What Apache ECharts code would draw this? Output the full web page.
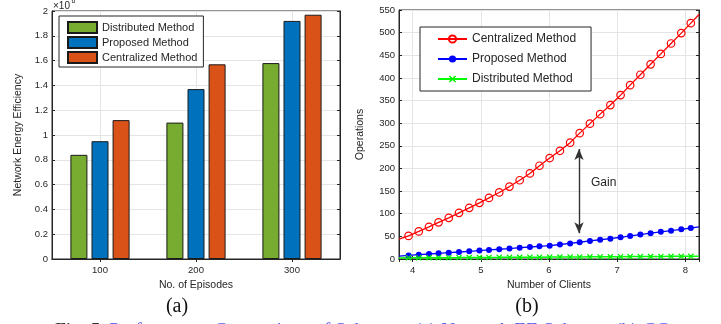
<!DOCTYPE html>
<html><head><meta charset="utf-8">
<script src="https://cdn.jsdelivr.net/npm/echarts@6/dist/echarts.min.js"></script>
<style>html,body{margin:0;padding:0;background:#fff}#c{width:721px;height:324px}</style>
</head><body><div id="c"></div>
<script>
// ---- Data: chart (a) ----
const episodes = ['100', '200', '300'];
const distributedEE = [0.84, 1.10, 1.58];
const proposedEE = [0.95, 1.37, 1.92];
const centralizedEE = [1.12, 1.57, 1.97];

// ---- Data: chart (b) ----
const clients = [3.94, 4.09, 4.24, 4.38, 4.53, 4.68, 4.83, 4.98, 5.12, 5.27, 5.42, 5.57, 5.72, 5.86, 6.01,
  6.16, 6.31, 6.45, 6.60, 6.75, 6.90, 7.05, 7.19, 7.34, 7.49, 7.64, 7.79, 7.94, 8.08];
const centralizedOps = [51, 61, 71, 81, 91, 102, 113, 124, 135, 147, 160, 174, 189, 206, 223,
  239, 257, 278, 299, 320, 340, 362, 384, 407, 430, 453, 476, 499, 521];
const proposedOps = [8, 9.5, 11, 12.5, 14, 15.5, 17, 18.5, 20, 21.5, 23, 25, 26.5, 28, 29.5,
  32, 34.5, 37, 40, 42.5, 45, 48, 51, 54, 57, 60, 62.5, 65.5, 68.5];
const distributedOps = [2.5, 2.6, 2.8, 2.9, 3.0, 3.1, 3.3, 3.4, 3.5, 3.6, 3.8, 3.9, 4.0, 4.1, 4.3,
  4.4, 4.5, 4.6, 4.8, 4.9, 5.0, 5.1, 5.3, 5.4, 5.5, 5.6, 5.8, 5.9, 6.0];
// line values where the curves meet the left/right plot edges
const edgeClients = [3.8, 8.2];
const centralizedEdge = [44, 540];
const proposedEdge = [6.5, 71];
const distributedEdge = [2.3, 6.2];
// "Gain" arrow (x position, top value, bottom value)
const gainX = 6.44;
const gainRange = [243, 57];

const SANS = '"Liberation Sans", Arial, Helvetica, sans-serif';
const SERIF = '"Liberation Serif", "Times New Roman", serif';
const AX = '#262626';
const GRIDC = '#e4e4e4';

function lineData(xs, ys, edge) {
  const d = [{ value: [edgeClients[0], edge[0]], symbol: 'none' }];
  xs.forEach((x, i) => d.push([x, ys[i]]));
  d.push({ value: [edgeClients[1], edge[1]], symbol: 'none' });
  return d;
}

const tickFont = { fontFamily: SANS, fontSize: 9.5, color: AX };
const nameFont = { fontFamily: SANS, fontSize: 10.5, color: AX };

function catAxis(pos, showLabel, name) {
  return {
    type: 'category', gridIndex: 0, position: pos, data: episodes,
    axisLine: { show: true, lineStyle: { color: AX, width: 1 } },
    axisTick: { show: true, inside: true, alignWithLabel: true, length: 3, lineStyle: { color: AX } },
    axisLabel: Object.assign({ show: showLabel, margin: 6 }, tickFont),
    splitLine: { show: false },
    name: name || '', nameLocation: 'middle', nameGap: 16, nameTextStyle: nameFont
  };
}
function eeAxis(pos, showLabel, name) {
  return {
    type: 'value', gridIndex: 0, position: pos, min: 0, max: 2, interval: 0.2,
    axisLine: { show: true, lineStyle: { color: AX, width: 1 } },
    axisTick: { show: true, inside: true, length: 3, lineStyle: { color: AX } },
    axisLabel: Object.assign({ show: showLabel, margin: 4, formatter: v => String(+v.toFixed(1)) }, tickFont),
    splitLine: { show: showLabel, lineStyle: { color: GRIDC, width: 1 } },
    name: name || '', nameLocation: 'middle', nameGap: 28, nameTextStyle: nameFont
  };
}
function clientAxis(pos, showLabel, name) {
  return {
    type: 'value', gridIndex: 1, position: pos, min: 3.8, max: 8.2, splitNumber: 5,
    axisLine: { show: true, lineStyle: { color: AX, width: 1 } },
    axisTick: { show: true, inside: true, length: 3, lineStyle: { color: AX } },
    axisLabel: Object.assign({ show: showLabel, margin: 6, showMinLabel: false, showMaxLabel: false }, tickFont),
    splitLine: { show: showLabel, lineStyle: { color: GRIDC, width: 1 } },
    name: name || '', nameLocation: 'middle', nameGap: 17, nameTextStyle: nameFont
  };
}
function opsAxis(pos, showLabel, name) {
  return {
    type: 'value', gridIndex: 1, position: pos, min: 0, max: 550, interval: 50,
    axisLine: { show: true, lineStyle: { color: AX, width: 1 } },
    axisTick: { show: true, inside: true, length: 3, lineStyle: { color: AX } },
    axisLabel: Object.assign({ show: showLabel, margin: 4 }, tickFont),
    splitLine: { show: showLabel, lineStyle: { color: GRIDC, width: 1 } },
    name: name || '', nameLocation: 'middle', nameGap: 33, nameTextStyle: nameFont
  };
}

const barStyle = c => ({ color: c, borderColor: '#1a1a1a', borderWidth: 1 });
const xPath = 'path://M0,1.5L1.5,0L5,3.5L8.5,0L10,1.5L6.5,5L10,8.5L8.5,10L5,6.5L1.5,10L0,8.5L3.5,5Z';

const option = {
  animation: false,
  backgroundColor: '#fff',
  grid: [
    { left: 52, top: 11, width: 288, height: 248, show: true, borderColor: AX, borderWidth: 1, backgroundColor: 'transparent' },
    { left: 399, top: 10, width: 300, height: 249, show: true, borderColor: AX, borderWidth: 1, backgroundColor: 'transparent' }
  ],
  xAxis: [
    catAxis('bottom', true, 'No. of Episodes'),
    catAxis('top', false),
    clientAxis('bottom', true, 'Number of Clients'),
    clientAxis('top', false)
  ],
  yAxis: [
    eeAxis('left', true, 'Network Energy Efficiency'),
    eeAxis('right', false),
    opsAxis('left', true, 'Operations'),
    opsAxis('right', false)
  ],
  legend: [
    {
      data: ['a|Distributed Method', 'a|Proposed Method', 'a|Centralized Method'],
      formatter: n => n.slice(2),
      icon: 'rect',
      orient: 'vertical', left: 59, top: 16, padding: [5, 6, 3, 8],
      itemWidth: 29, itemHeight: 11, itemGap: 2,
      textStyle: { fontFamily: SANS, fontSize: 11, lineHeight: 11, color: AX },
      borderColor: AX, borderWidth: 1, backgroundColor: '#fff', borderRadius: 0,
      selectedMode: false
    },
    {
      data: ['b|Centralized Method', 'b|Proposed Method', 'b|Distributed Method'],
      formatter: n => n.slice(2),
      orient: 'vertical', left: 420, top: 27, padding: [6, 15, 6, 17],
      itemWidth: 29, itemHeight: 9, itemGap: 8,
      textStyle: { fontFamily: SANS, fontSize: 12, lineHeight: 12, color: AX },
      borderColor: AX, borderWidth: 1, backgroundColor: '#fff', borderRadius: 0,
      selectedMode: false
    }
  ],
  series: [
    {
      type: 'line', xAxisIndex: 0, yAxisIndex: 0, data: [], z: 1, silent: true,
      markLine: {
        silent: true, symbol: 'none', animation: false, z: 1,
        lineStyle: { color: GRIDC, type: 'solid', width: 1 },
        label: { show: false },
        data: episodes.map((e, i) => ({ xAxis: i }))
      }
    },
    { name: 'a|Distributed Method', type: 'bar', xAxisIndex: 0, yAxisIndex: 0, data: distributedEE, barWidth: 17, barGap: '24%', itemStyle: barStyle('#77AC30'), z: 3 },
    { name: 'a|Proposed Method', type: 'bar', xAxisIndex: 0, yAxisIndex: 0, data: proposedEE, barWidth: 17, barGap: '24%', itemStyle: barStyle('#0072BD'), z: 3 },
    { name: 'a|Centralized Method', type: 'bar', xAxisIndex: 0, yAxisIndex: 0, data: centralizedEE, barWidth: 17, barGap: '24%', itemStyle: barStyle('#D95319'), z: 3 },
    {
      name: 'b|Centralized Method', type: 'line', xAxisIndex: 2, yAxisIndex: 2,
      data: lineData(clients, centralizedOps, centralizedEdge),
      symbol: 'circle', symbolSize: 7.5, showAllSymbol: true,
      lineStyle: { color: '#ff0000', width: 1.3 },
      itemStyle: { color: 'rgba(255,255,255,0)', borderColor: '#ff0000', borderWidth: 1.2 },
      z: 4,
      markLine: {
        silent: true, animation: false, symbol: ['arrow', 'arrow'], symbolSize: [7, 11],
        lineStyle: { color: '#333', type: 'solid', width: 1.4 },
        label: { show: false },
        data: [[{ coord: [gainX, gainRange[0]] }, { coord: [gainX, gainRange[1]] }]]
      }
    },
    {
      name: 'b|Proposed Method', type: 'line', xAxisIndex: 2, yAxisIndex: 2,
      data: lineData(clients, proposedOps, proposedEdge),
      symbol: 'circle', symbolSize: 6, showAllSymbol: true,
      lineStyle: { color: '#0000ff', width: 1.3 },
      itemStyle: { color: '#0000ff' }, z: 4
    },
    {
      name: 'b|Distributed Method', type: 'line', xAxisIndex: 2, yAxisIndex: 2,
      data: lineData(clients, distributedOps, distributedEdge),
      symbol: xPath, symbolSize: 6, showAllSymbol: true,
      lineStyle: { color: '#00ff00', width: 1.5 },
      itemStyle: { color: '#00ee00' }, z: 4
    }
  ],
  graphic: [
    { type: 'text', left: 53, top: 1, style: { text: '×10', fontFamily: SANS, fontSize: 10, fill: AX } },
    { type: 'text', left: 71.5, top: -2, style: { text: '6', fontFamily: SANS, fontSize: 7, fill: AX } },
    { type: 'text', left: 591, top: 177, style: { text: 'Gain', fontFamily: SANS, fontSize: 12, fill: AX } },
    { type: 'text', x: 177, y: 297, style: { text: '(a)', fontFamily: SERIF, fontSize: 20, fill: '#111', align: 'center' } },
    { type: 'text', x: 527, y: 297, style: { text: '(b)', fontFamily: SERIF, fontSize: 20, fill: '#111', align: 'center' } },
    { type: 'text', x: 55, y: 321, style: {
      text: '{k|Fig. 5:} {b|Performance Comparison of Schemes: (a) Network EE Scheme; (b) CC}',
      rich: {
        k: { fontFamily: SERIF, fontSize: 19.5, fill: '#333' },
        b: { fontFamily: SERIF, fontSize: 19.5, fill: '#5a5aee' }
      } } }
  ]
};

const chart = echarts.init(document.getElementById('c'), null, { renderer: 'canvas' });
chart.setOption(option);
</script>
</body></html>
